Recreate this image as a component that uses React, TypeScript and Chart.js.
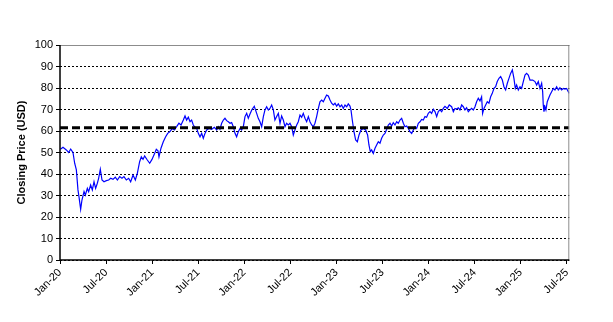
import React, { useEffect, useRef } from "react";
import { Chart, registerables } from "chart.js";

Chart.register(...registerables);

// x = months elapsed since Jan 2020
const months = [
  0.05, 0.39, 0.82, 1.13, 1.39, 1.69, 1.91, 2.13, 2.34, 2.47, 2.69, 2.86, 3.13, 3.3, 3.56, 3.73, 3.99, 4.21, 4.43, 4.64,
  4.86, 5.03, 5.25, 5.47, 5.73, 6.03, 6.34, 6.6, 6.9, 7.2, 7.47, 7.77, 8.07, 8.33, 8.64, 8.94, 9.2, 9.51, 9.81, 10.07,
  10.37, 10.59, 10.81, 11.02, 11.37, 11.68, 11.98, 12.33, 12.54, 12.76, 12.89, 13.15, 13.45, 13.76, 14.02, 14.32, 14.63, 14.89, 15.19, 15.49,
  15.76, 16.06, 16.28, 16.49, 16.71, 16.93, 17.14, 17.36, 17.58, 17.8, 18.01, 18.23, 18.45, 18.66, 18.88, 19.1, 19.4, 19.75, 20.1, 20.4,
  20.62, 20.83, 21.05, 21.27, 21.48, 21.7, 21.92, 22.14, 22.35, 22.57, 22.79, 23.0, 23.22, 23.44, 23.65, 23.87, 24.09, 24.31, 24.52, 24.74,
  25.0, 25.3, 25.61, 25.82, 26.04, 26.26, 26.48, 26.69, 26.91, 27.13, 27.34, 27.56, 27.78, 27.99, 28.21, 28.43, 28.65, 28.86, 29.08, 29.3,
  29.51, 29.73, 29.95, 30.17, 30.38, 30.6, 30.82, 31.03, 31.25, 31.47, 31.68, 31.9, 32.12, 32.34, 32.55, 32.77, 32.99, 33.2, 33.42, 33.64,
  33.85, 34.07, 34.29, 34.51, 34.72, 34.94, 35.16, 35.37, 35.59, 35.81, 36.02, 36.24, 36.46, 36.68, 36.89, 37.11, 37.33, 37.54, 37.76, 37.89,
  38.06, 38.28, 38.5, 38.72, 38.93, 39.19, 39.5, 39.8, 40.06, 40.23, 40.41, 40.58, 40.8, 41.02, 41.23, 41.45, 41.67, 41.88, 42.1, 42.32,
  42.54, 42.75, 42.97, 43.19, 43.4, 43.62, 43.84, 44.05, 44.27, 44.49, 44.71, 44.92, 45.14, 45.36, 45.57, 45.79, 46.01, 46.22, 46.44, 46.66,
  46.88, 47.09, 47.31, 47.53, 47.74, 47.96, 48.18, 48.39, 48.61, 48.83, 49.05, 49.26, 49.48, 49.7, 49.91, 50.13, 50.43, 50.69, 51.0, 51.22,
  51.43, 51.65, 51.87, 52.08, 52.3, 52.52, 52.73, 52.95, 53.17, 53.39, 53.6, 53.82, 54.04, 54.25, 54.47, 54.69, 54.9, 55.03, 55.21, 55.43,
  55.64, 55.86, 56.08, 56.29, 56.51, 56.73, 56.94, 57.16, 57.38, 57.6, 57.81, 58.03, 58.25, 58.46, 58.68, 58.9, 59.11, 59.29, 59.46, 59.68,
  59.9, 60.11, 60.33, 60.55, 60.76, 60.98, 61.2, 61.55, 61.85, 62.07, 62.28, 62.5, 62.72, 62.85, 62.93, 63.02, 63.15, 63.28, 63.45, 63.63,
  63.8, 64.02, 64.24, 64.45, 64.67, 64.89, 65.1, 65.32, 65.54, 65.76, 65.97, 66.19, 66.32,
];

const prices = [
  51.5, 52.4, 51.2, 50.0, 51.6, 50.0, 45.0, 41.9, 32.6, 29.5, 23.6, 27.9, 31.8, 30.2, 33.3, 31.8, 34.9, 32.6, 36.4, 33.3,
  35.7, 38.0, 42.2, 37.2, 36.4, 36.9, 37.2, 38.0, 37.5, 38.5, 37.2, 38.8, 38.0, 38.8, 37.2, 38.0, 36.4, 39.5, 37.2, 40.3,
  45.7, 48.0, 46.8, 48.4, 46.5, 45.0, 46.8, 49.6, 51.5, 50.8, 48.0, 52.0, 55.0, 57.3, 58.9, 59.7, 61.2, 60.5, 62.0, 63.6,
  62.8, 65.1, 67.0, 65.1, 66.4, 64.3, 65.1, 62.8, 61.7, 61.2, 58.9, 57.3, 58.9, 56.6, 58.9, 60.5, 61.2, 60.8, 61.7, 60.5,
  62.0, 60.8, 63.6, 65.1, 65.9, 64.8, 64.3, 63.6, 63.9, 62.0, 58.9, 57.3, 59.7, 61.2, 60.5, 62.0, 66.7, 68.2, 65.9, 67.9,
  70.0, 71.5, 68.2, 65.9, 64.3, 62.0, 66.7, 69.8, 71.3, 69.8, 70.5, 72.1, 69.8, 65.1, 66.7, 68.2, 63.6, 67.0, 65.1, 62.0,
  63.6, 62.8, 63.6, 62.0, 58.1, 60.5, 62.8, 64.3, 67.4, 66.4, 68.2, 65.9, 64.3, 66.7, 64.3, 62.8, 62.0, 63.6, 66.7, 70.5,
  73.6, 74.4, 73.6, 75.2, 76.7, 76.3, 74.4, 72.9, 72.1, 72.9, 71.6, 72.6, 71.3, 72.1, 70.5, 72.1, 71.3, 72.6, 71.6, 69.8,
  65.1, 59.7, 55.8, 55.0, 58.1, 60.5, 61.2, 60.5, 58.1, 53.5, 50.4, 51.2, 49.6, 52.0, 53.5, 55.0, 54.3, 56.6, 58.1, 58.9,
  60.8, 62.8, 63.6, 62.3, 63.9, 62.8, 64.3, 63.6, 65.1, 65.9, 63.6, 62.0, 62.3, 61.2, 59.7, 58.9, 60.5, 62.0, 61.2, 63.6,
  64.3, 65.4, 65.1, 66.7, 66.4, 68.2, 69.0, 68.2, 70.1, 69.0, 66.7, 69.0, 69.8, 69.0, 70.5, 71.5, 70.5, 72.1, 71.3, 69.0,
  70.5, 70.2, 70.8, 69.8, 72.1, 71.3, 69.8, 70.8, 69.0, 69.8, 70.5, 69.8, 71.3, 73.6, 75.2, 74.0, 75.9, 68.2, 70.5, 72.1,
  73.6, 72.9, 75.9, 77.5, 79.8, 80.6, 83.0, 84.5, 85.3, 83.7, 80.6, 79.1, 82.2, 84.5, 86.8, 88.4, 84.5, 79.8, 81.4, 79.1,
  80.6, 79.8, 83.0, 86.0, 86.8, 86.0, 83.7, 83.7, 83.0, 81.4, 83.0, 79.8, 82.2, 78.3, 72.1, 69.0, 71.3, 69.8, 73.6, 75.2,
  76.7, 78.3, 79.8, 79.1, 80.6, 79.1, 80.1, 79.1, 79.8, 79.5, 79.8, 78.3, 77.5,
];

const tickMonths = [0, 6, 12, 18, 24, 30, 36, 42, 48, 54, 60, 66];
const tickLabels = [
  "Jan-20", "Jul-20", "Jan-21", "Jul-21", "Jan-22", "Jul-22",
  "Jan-23", "Jul-23", "Jan-24", "Jul-24", "Jan-25", "Jul-25",
];
const thresholdPrice = 61.5;

export default function App() {
  const ref = useRef<HTMLCanvasElement>(null);

  useEffect(() => {
    if (!ref.current) return;
    Chart.defaults.font.family = "'Liberation Sans', Arial, sans-serif";
    Chart.defaults.color = "#000";
    const xMin = 0;
    const xMax = months[months.length - 1];

    const framePlugin = {
      id: "frame",
      afterDraw(chart: any) {
        const { ctx, chartArea: a } = chart;
        ctx.save();
        ctx.strokeStyle = "#8c8c8c";
        ctx.lineWidth = 1;
        ctx.beginPath();
        ctx.moveTo(a.left, a.top + 0.5);
        ctx.lineTo(a.right - 0.5, a.top + 0.5);
        ctx.lineTo(a.right - 0.5, a.bottom);
        ctx.stroke();
        ctx.strokeStyle = "#000";
        ctx.lineWidth = 1.5;
        ctx.beginPath();
        ctx.moveTo(a.left, a.top);
        ctx.lineTo(a.left, a.bottom);
        ctx.lineTo(a.right, a.bottom);
        ctx.stroke();
        ctx.restore();
      },
    };

    const chart = new Chart(ref.current, {
      type: "line",
      data: {
        datasets: [
          {
            label: "Threshold",
            data: [
              { x: xMin, y: thresholdPrice },
              { x: xMax, y: thresholdPrice },
            ],
            borderColor: "#000",
            borderWidth: 3,
            borderDash: [8, 4],
            pointRadius: 0,
            fill: false,
          },
          {
            label: "Closing Price",
            data: months.map((m, i) => ({ x: m, y: prices[i] })),
            borderColor: "#0000ff",
            borderWidth: 1.2,
            pointRadius: 0,
            tension: 0,
            fill: false,
          },
        ],
      },
      options: {
        animation: false,
        responsive: false,
        events: [],
        layout: { padding: { top: 45, right: 43.7, left: 0, bottom: 0 } },
        plugins: {
          legend: { display: false },
          tooltip: { enabled: false },
          title: { display: false },
        },
        scales: {
          x: {
            type: "linear",
            min: xMin,
            max: xMax,
            afterBuildTicks(scale: any) {
              scale.ticks = tickMonths.map((v) => ({ value: v }));
            },
            afterFit(scale: any) {
              scale.height = 62;
            },
            ticks: {
              autoSkip: false,
              minRotation: 45,
              maxRotation: 45,
              padding: 2,
              font: { size: 11 },
              color: "#000",
              callback: (value: any) => {
                const idx = tickMonths.indexOf(Number(value));
                return idx >= 0 ? tickLabels[idx] : "";
              },
            },
            grid: {
              drawOnChartArea: false,
              drawTicks: true,
              tickLength: 4,
              color: "#000",
            },
            border: { display: false },
          },
          y: {
            min: 0,
            max: 100,
            afterFit(scale: any) {
              scale.width = 60;
            },
            ticks: {
              stepSize: 10,
              padding: 3,
              font: { size: 11 },
              color: "#000",
            },
            grid: {
              color: "#000",
              lineWidth: 1,
              drawTicks: true,
              tickLength: 4,
              tickBorderDash: [],
            } as any,
            border: { display: false, dash: [2, 2] },
            title: {
              display: true,
              text: "Closing Price (USD)",
              font: { size: 11, weight: "bold" },
              color: "#000",
              padding: { top: 15, bottom: 0 },
            },
          },
        },
      },
      plugins: [framePlugin],
    });

    return () => chart.destroy();
  }, []);

  return (
    <div style={{ position: "fixed", left: 0, top: 0, width: 613, height: 322, background: "#fff" }}>
      <canvas ref={ref} width={613} height={322} />
    </div>
  );
}
